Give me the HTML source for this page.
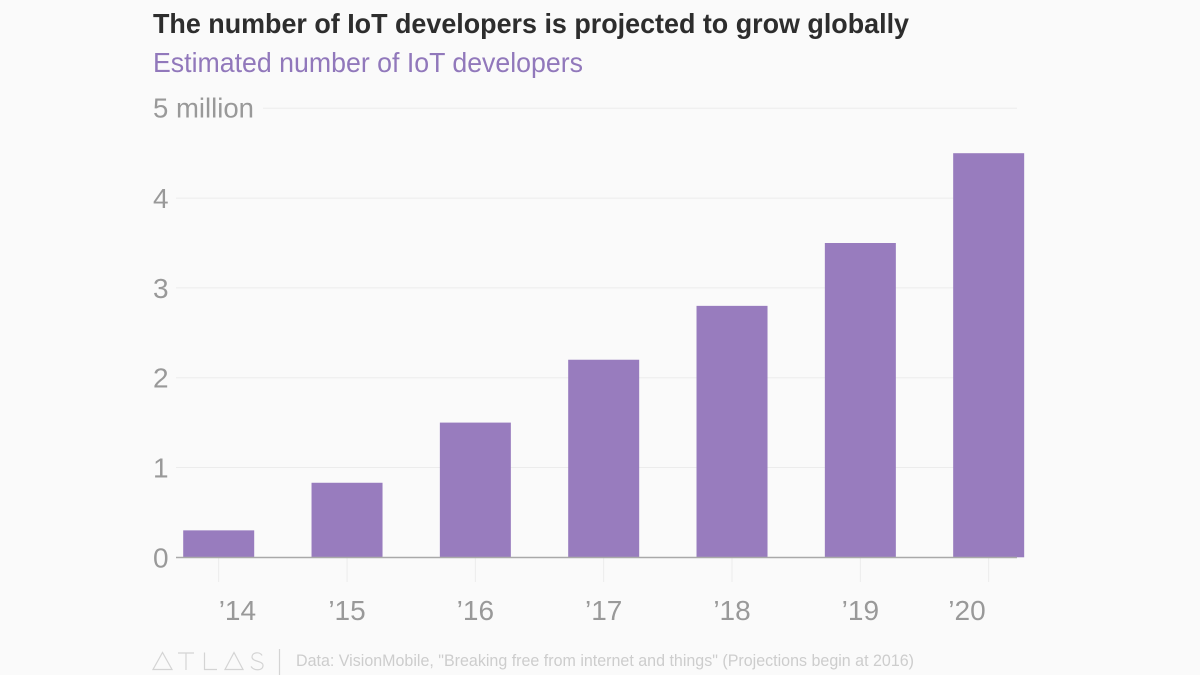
<!DOCTYPE html>
<html>
<head>
<meta charset="utf-8">
<style>
html,body{margin:0;padding:0;background:#fafafa;width:1200px;height:675px;overflow:hidden}
svg{display:block}
text{font-family:"Liberation Sans",sans-serif}
</style>
</head>
<body>
<svg id="chart" width="1200" height="675" viewBox="0 0 1200 675" xmlns="http://www.w3.org/2000/svg">
  <rect x="0" y="0" width="1200" height="675" fill="#fafafa"/>
  <text x="153" y="33" font-size="28" font-weight="700" fill="#2d2d2d" textLength="756" lengthAdjust="spacingAndGlyphs">The number of IoT developers is projected to grow globally</text>
  <text x="153" y="72" font-size="28" fill="#9178bb" textLength="430" lengthAdjust="spacingAndGlyphs">Estimated number of IoT developers</text>
  <g id="grid"></g>
  <g id="xticks"></g>
  <g id="bars"></g>
  <g id="ylabels"></g>
  <g id="xlabels"></g>
  <line id="baseline" x1="176" x2="1017" y1="557.5" y2="557.5" stroke="#a9a9a9" stroke-width="1.5"/>
  <g fill="none" stroke="#d4d4d4" stroke-width="1.2">
    <path d="M153 669.5 L162.5 652.5 L172 669.5 Z"/>
    <path d="M178 653 H194 M186 653 V670"/>
    <path d="M204.5 652.5 V669.5 H217"/>
    <path d="M225 669.5 L234 652.5 L243 669.5 Z"/>
    <path d="M262 655.5 C260 651.5 252 652 252 657 C252 662 263 660.5 263 665.5 C263 671 254 671 251 666.5"/>
    <line x1="279.5" x2="279.5" y1="649" y2="675"/>
  </g>
  <text x="296" y="666" font-size="17" fill="#cdcdcd" textLength="618" lengthAdjust="spacingAndGlyphs">Data: VisionMobile, "Breaking free from internet and things" (Projections begin at 2016)</text>
</svg>
<script>
const categories = ["’14", "’15", "’16", "’17", "’18", "’19", "’20"];
const developersMillions = [0.3, 0.83, 1.5, 2.2, 2.8, 3.5, 4.5];
const yTicks = [0, 1, 2, 3, 4, 5];
const yTickLabels = ["0", "1", "2", "3", "4", "5 million"];

const NS = "http://www.w3.org/2000/svg";
const yScale = v => 557.3 - v * 89.8;
const xCenter = i => 218.7 + i * 128.33;
const BAR_W = 71;

function make(tag, attrs, parent) {
  const el = document.createElementNS(NS, tag);
  for (const k in attrs) el.setAttribute(k, attrs[k]);
  parent.appendChild(el);
  return el;
}

const grid = document.getElementById("grid");
const ylabels = document.getElementById("ylabels");
yTicks.forEach((t, i) => {
  if (t !== 0) {
    const isTop = i === yTicks.length - 1;
    const line = make("line", {x1: isTop ? 263 : 176, x2: 1017, y1: yScale(t), y2: yScale(t), stroke: "#ececec", "stroke-width": 1}, grid);
    
    
  }
  const label = make("text", {x: 153, y: yScale(t) + 10, "font-size": 28, fill: "#999999"}, ylabels);
  
  
  label.textContent = yTickLabels[i];
  if (i === yTicks.length - 1) {
    label.setAttribute("textLength", 101);
    label.setAttribute("lengthAdjust", "spacingAndGlyphs");
    label.setAttribute("y", yScale(t) + 9);
  }
});

const xticks = document.getElementById("xticks");
const bars = document.getElementById("bars");
const xlabels = document.getElementById("xlabels");
categories.forEach((c, i) => {
  const cx = xCenter(i);
  const tick = make("line", {x1: cx, x2: cx, y1: 558, y2: 582, stroke: "#ececec", "stroke-width": 1}, xticks);
  
  

  const v = developersMillions[i];
  const bar = make("rect", {x: cx - BAR_W / 2, y: yScale(v), width: BAR_W, height: yScale(0) - yScale(v), fill: "#987cbe"}, bars);
  
  

  let lx = cx, anchor = "middle";
  if (i === 0) { lx = cx; anchor = "start"; }
  if (i === categories.length - 1) { lx = cx - 3; anchor = "end"; }
  const label = make("text", {x: lx, y: 620, "font-size": 28, fill: "#999999", "text-anchor": anchor}, xlabels);
  
  
  label.textContent = c;
});
</script>
</body>
</html>
